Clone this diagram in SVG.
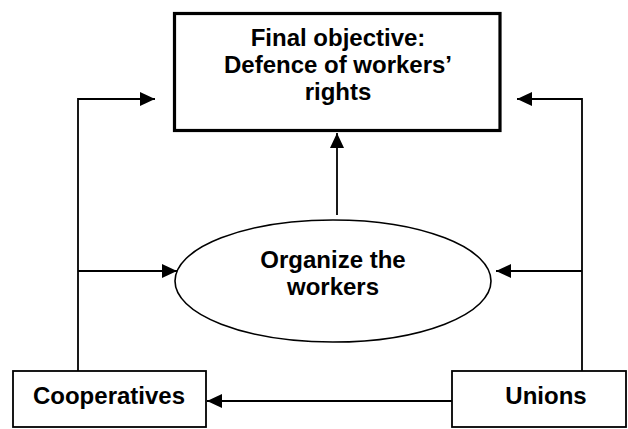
<svg xmlns="http://www.w3.org/2000/svg" width="628" height="429" viewBox="0 0 628 429">
  <style>
    .lbl { font-family: "Liberation Sans", Arial, sans-serif; font-weight: bold; font-size: 24px; fill: #000; text-anchor: middle; }
    .conn { fill: none; stroke: #000; stroke-width: 1.8; }
    .box { fill: #fff; stroke: #000; stroke-width: 1.8; }
  </style>
  <defs>
    <marker id="arrow" viewBox="0 0 15 14" refX="15" refY="7" markerWidth="15" markerHeight="14" markerUnits="userSpaceOnUse" orient="auto">
      <path d="M0,0 L15,7 L0,14 z" fill="#000"/>
    </marker>
  </defs>
  <rect width="628" height="429" fill="#fff"/>
  <g id="connectors">
    <path class="conn" d="M78,371 V99 H155" marker-end="url(#arrow)"/>
    <path class="conn" d="M78,271 H177" marker-end="url(#arrow)"/>
    <path class="conn" d="M582,371 V99 H517" marker-end="url(#arrow)"/>
    <path class="conn" d="M582,271 H496" marker-end="url(#arrow)"/>
    <path class="conn" d="M337,215 V133" marker-end="url(#arrow)"/>
    <path class="conn" d="M452,401 H207" marker-end="url(#arrow)"/>
  </g>
  <g id="objective">
    <rect x="174.5" y="13.5" width="325.5" height="117" fill="#fff" stroke="#000" stroke-width="3.2"/>
    <text class="lbl" x="338" y="46">Final objective:</text>
    <text class="lbl" x="338" y="73">Defence of workers’</text>
    <text class="lbl" x="338" y="100">rights</text>
  </g>
  <g id="organize">
    <ellipse cx="333" cy="281" rx="158" ry="61" fill="#fff" stroke="#000" stroke-width="1.6"/>
    <text class="lbl" x="333" y="268">Organize the</text>
    <text class="lbl" x="333" y="295">workers</text>
  </g>
  <g id="cooperatives">
    <rect class="box" x="13" y="371" width="193" height="56"/>
    <text class="lbl" x="109" y="404">Cooperatives</text>
  </g>
  <g id="unions">
    <rect class="box" x="452" y="371" width="174" height="56"/>
    <text class="lbl" x="546" y="404">Unions</text>
  </g>
</svg>
